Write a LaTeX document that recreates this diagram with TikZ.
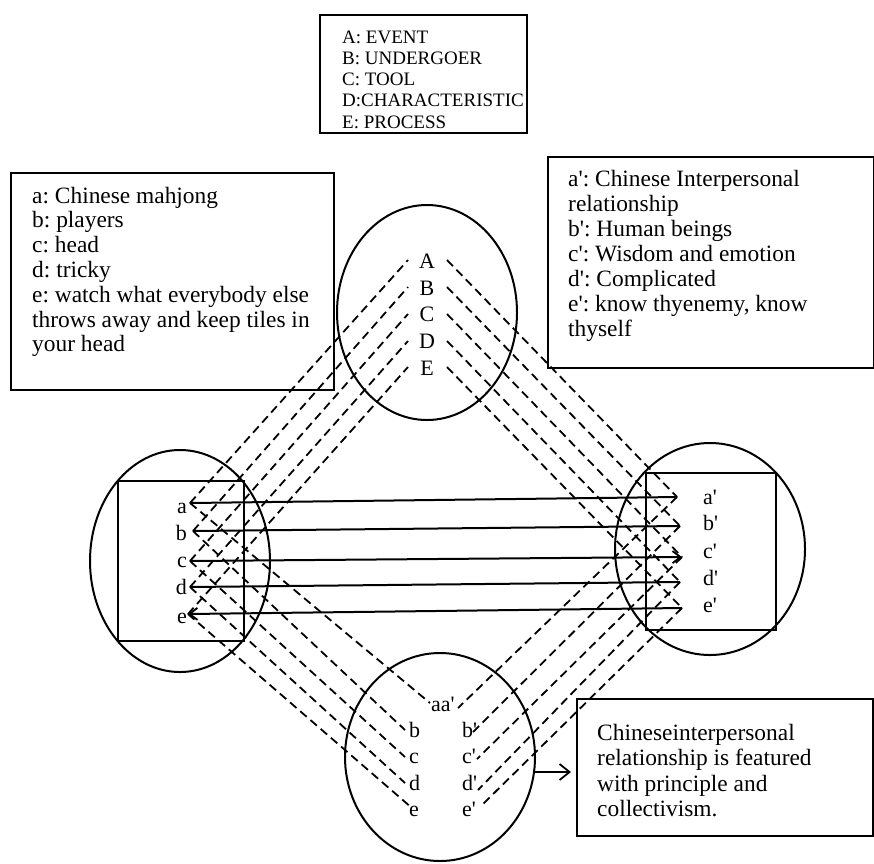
\documentclass[tikz,border=0pt]{standalone}
\usepackage{fontspec}
\setmainfont{Liberation Serif}
\usetikzlibrary{shapes.geometric,arrows.meta}
\newcommand{\ap}{\textquotesingle}
\frenchspacing
\begin{document}
\begin{tikzpicture}[x=1pt,y=-1pt,
  box/.style={draw, rectangle, line width=2pt, inner sep=0pt, anchor=north west},
  ell/.style={draw, ellipse, line width=2pt, inner sep=0pt},
  dl/.style={dash pattern=on 8.5pt off 5pt, line width=1.8pt},
  sl/.style={line width=2pt},
  tip/.style={-{Straight Barb[length=8pt,width=12pt,line width=1.8pt]}},
  bigtxt/.style={font=\fontsize{23.4}{25}\selectfont, anchor=base west, inner sep=0pt},
  smalltxt/.style={font=\fontsize{19}{21}\selectfont, anchor=base west, inner sep=0pt},
  lett/.style={font=\fontsize{22}{24}\selectfont, inner sep=0pt}]
\useasboundingbox (0,0) rectangle (874,863);

% ---------- boxes ----------
\node[box, minimum width=207pt, minimum height=118pt] (boxTop) at (319,14) {};
\node[smalltxt] (t1) at (342,43) {A: EVENT};
\node[smalltxt] (t2) at (342,64.25) {B: UNDERGOER};
\node[smalltxt] (t3) at (342,85.5) {C: TOOL};
\node[smalltxt] (t4) at (342,106.75) {D:CHARACTERISTIC};
\node[smalltxt] (t5) at (342,128) {E: PROCESS};

\node[box, minimum width=323pt, minimum height=217pt] (boxL) at (10,172) {};
\node[bigtxt] (l1) at (32,203) {a: Chinese mahjong};
\node[bigtxt] (l2) at (32,227.8) {b: players};
\node[bigtxt] (l3) at (32,252.6) {c: head};
\node[bigtxt] (l4) at (32,277.4) {d: tricky};
\node[bigtxt] (l5) at (32,302.2) {e: watch what everybody else};
\node[bigtxt] (l6) at (32,327) {throws away and keep tiles in};
\node[bigtxt] (l7) at (32,351.8) {your head};

\node[box, minimum width=326pt, minimum height=211pt] (boxR) at (547,156) {};
\node[bigtxt] (r1) at (568,186.7) {a\ap: Chinese Interpersonal};
\node[bigtxt] (r2) at (568,211.7) {relationship};
\node[bigtxt] (r3) at (568,236.7) {b\ap: Human beings};
\node[bigtxt] (r4) at (568,261.7) {c\ap: Wisdom and emotion};
\node[bigtxt] (r5) at (568,286.7) {d\ap: Complicated};
\node[bigtxt] (r6) at (568,311.7) {e\ap: know thyenemy, know};
\node[bigtxt] (r7) at (568,336.7) {thyself};

\node[box, minimum width=296pt, minimum height=137pt] (boxB) at (576,698) {};
\node[bigtxt] (b1) at (597,740) {Chineseinterpersonal};
\node[bigtxt] (b2) at (597,765.5) {relationship is featured};
\node[bigtxt] (b3) at (597,791) {with principle and};
\node[bigtxt] (b4) at (597,816.5) {collectivism.};

% ---------- ellipses and inner rectangles ----------
\node[ell, minimum width=180pt, minimum height=215pt] (ellTop) at (427,312.5) {};
\node[ell, minimum width=180pt, minimum height=222pt] (ellL) at (180,561) {};
\node[ell, minimum width=190pt, minimum height=212pt] (ellR) at (710,549) {};
\node[ell, minimum width=190pt, minimum height=208pt] (ellB) at (440,757) {};
\node[box, minimum width=126pt, minimum height=160pt] (recL) at (117,480) {};
\node[box, minimum width=130pt, minimum height=157pt] (recR) at (645,472) {};

% ---------- letters ----------
\node[lett, anchor=base] (A) at (427,268) {A};
\node[lett, anchor=base] (B) at (427,295) {B};
\node[lett, anchor=base] (C) at (427,321.5) {C};
\node[lett, anchor=base] (D) at (427,348) {D};
\node[lett, anchor=base] (E) at (427,375) {E};

\node[lett, anchor=base east] (la) at (187,513) {a};
\node[lett, anchor=base east] (lb) at (187,540) {b};
\node[lett, anchor=base east] (lc) at (187,567) {c};
\node[lett, anchor=base east] (ld) at (187,594) {d};
\node[lett, anchor=base east] (le) at (187,623) {e};

\node[lett, anchor=base west] (ra) at (703,504) {a\ap};
\node[lett, anchor=base west] (rb) at (703,530) {b\ap};
\node[lett, anchor=base west] (rc) at (703,558) {c\ap};
\node[lett, anchor=base west] (rd) at (703,585) {d\ap};
\node[lett, anchor=base west] (re) at (703,612) {e\ap};

\node[lett, anchor=base west] (baa) at (431,711) {aa\ap};
\node[lett, anchor=base west] (bb) at (409,737) {b};
\node[lett, anchor=base west] (bc) at (409,763) {c};
\node[lett, anchor=base west] (bd) at (409,790) {d};
\node[lett, anchor=base west] (be) at (409,816) {e};
\node[lett, anchor=base west] (bbp) at (462,737) {b\ap};
\node[lett, anchor=base west] (bcp) at (462,763) {c\ap};
\node[lett, anchor=base west] (bdp) at (462,790) {d\ap};
\node[lett, anchor=base west] (bep) at (462,816) {e\ap};

% ---------- connection points ----------
\coordinate (Pa) at (190,503);
\coordinate (Pb) at (193,531);
\coordinate (Pc) at (190,561);
\coordinate (Pd) at (190,587);
\coordinate (Pe) at (188,614);
\coordinate (Qa) at (677,497);
\coordinate (Qb) at (680,526);
\coordinate (Qc) at (682,557);
\coordinate (Qd) at (680,582);
\coordinate (Qe) at (682,608);

\coordinate (TLa) at (408,260);
\coordinate (TLb) at (408,287);
\coordinate (TLc) at (408,314);
\coordinate (TLd) at (408,341);
\coordinate (TLe) at (408,367);
\coordinate (TRa) at (447,260);
\coordinate (TRb) at (447,287);
\coordinate (TRc) at (447,314);
\coordinate (TRd) at (447,341);
\coordinate (TRe) at (447,367);

\coordinate (BLa) at (430,703);
\coordinate (BLb) at (405,730);
\coordinate (BLc) at (405,757);
\coordinate (BLd) at (405,783);
\coordinate (BLe) at (412,808);
\coordinate (BRa) at (458,708);
\coordinate (BRb) at (472,733);
\coordinate (BRc) at (477,759);
\coordinate (BRd) at (478,790);
\coordinate (BRe) at (481,806);

% ---------- dashed connectors ----------
\foreach \k in {a,b,c,d,e}{
  \draw[dl] (P\k) -- (TL\k);
  \draw[dl] (TR\k) -- (Q\k);
  \draw[dl] (P\k) -- (BL\k);
  \draw[dl] (Q\k) -- (BR\k);
}

% ---------- solid connectors ----------
\draw[sl] (Pa) -- (Qa);
\draw[sl] (Pb) -- (Qb);
\draw[sl, tip] (Pc) -- (Qc);
\draw[sl] (Pd) -- (Qd);
\draw[sl, tip] (Qe) -- (Pe);

% ---------- arrow to conclusion ----------
\coordinate (arS) at (534,772);
\coordinate (arE) at (571,772);
\draw[sl, -{Straight Barb[length=10pt,width=16pt,line width=1.8pt]}] (arS) -- (arE);
\end{tikzpicture}
\end{document}
